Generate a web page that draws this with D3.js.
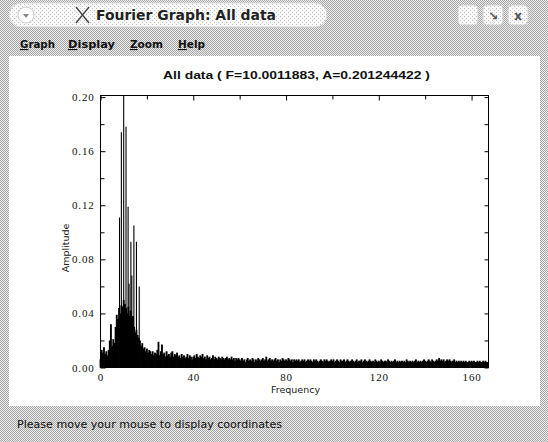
<!DOCTYPE html>
<html><head><meta charset="utf-8">
<script src="https://cdn.jsdelivr.net/npm/d3@7"></script>
<style>html,body{margin:0;padding:0;background:#fff;}svg{display:block;}</style>
</head><body>
<svg id="c" width="548" height="442"></svg>
<script>
// ---------- data ----------
const freqStep = 0.5;            // Hz between spectrum lines
// amplitude 0 – 23.5 Hz
const ampLow = [0.006,0.013,0.011,0.015,0.010,0.012,0.009,0.013,0.020,0.032,
  0.016,0.021,0.018,0.030,0.039,0.036,0.044,0.040,0.046,0.045,
  0.050,0.047,0.044,0.040,0.045,0.038,0.042,0.036,0.038,0.030,
  0.026,0.028,0.024,0.022,0.020,0.016,0.018,0.014,0.015,0.012,
  0.014,0.011,0.013,0.012,0.010,0.012,0.009,0.011];
// amplitude 24 – 59.5 Hz
const ampMid = [0.010,0.013,0.019,0.009,0.012,0.017,0.010,0.011,0.008,0.012,
  0.009,0.010,0.008,0.011,0.012,0.008,0.010,0.009,0.011,0.008,
  0.009,0.007,0.010,0.008,0.009,0.007,0.008,0.010,0.007,0.009,
  0.008,0.006,0.008,0.009,0.007,0.010,0.008,0.007,0.009,0.008,
  0.010,0.007,0.008,0.006,0.009,0.007,0.008,0.006,0.007,0.009,
  0.006,0.008,0.007,0.006,0.008,0.007,0.006,0.008,0.007,0.006,
  0.007,0.008,0.006,0.007,0.006,0.008,0.006,0.007,0.005,0.007,
  0.006,0.007];
// amplitude 60 – 167 Hz
const ampHigh = [0.006,0.005,0.007,0.005,0.006,0.004,0.006,0.007,0.005,0.006,
  0.005,0.007,0.006,0.004,0.006,0.005,0.007,0.006,0.005,0.006,
  0.007,0.005,0.006,0.008,0.005,0.006,0.007,0.005,0.006,0.005,
  0.006,0.007,0.005,0.006,0.004,0.006,0.005,0.007,0.006,0.005,
  0.006,0.005,0.007,0.006,0.005,0.006,0.004,0.006,0.005,0.006,
  0.005,0.006,0.004,0.005,0.006,0.005,0.006,0.004,0.005,0.006,
  0.005,0.006,0.005,0.004,0.006,0.005,0.006,0.005,0.004,0.005,
  0.006,0.005,0.004,0.006,0.005,0.006,0.005,0.004,0.005,0.006,
  0.005,0.006,0.004,0.005,0.006,0.005,0.004,0.006,0.005,0.005,
  0.006,0.004,0.005,0.006,0.005,0.004,0.005,0.006,0.005,0.004,
  0.005,0.006,0.004,0.005,0.005,0.006,0.004,0.005,0.006,0.005,
  0.004,0.005,0.006,0.005,0.004,0.005,0.004,0.006,0.005,0.004,
  0.005,0.004,0.006,0.005,0.004,0.005,0.005,0.004,0.006,0.005,
  0.004,0.005,0.004,0.005,0.006,0.004,0.005,0.004,0.005,0.004,
  0.005,0.004,0.005,0.004,0.006,0.005,0.004,0.005,0.004,0.005,
  0.004,0.005,0.006,0.004,0.005,0.004,0.005,0.004,0.005,0.006,
  0.005,0.004,0.005,0.006,0.005,0.004,0.006,0.005,0.004,0.005,
  0.006,0.005,0.007,0.005,0.006,0.005,0.006,0.004,0.005,0.006,
  0.005,0.006,0.005,0.004,0.005,0.006,0.004,0.005,0.004,0.005,
  0.004,0.005,0.004,0.005,0.004,0.005,0.004,0.004,0.005,0.004,
  0.005,0.004,0.005,0.004,0.004,0.005,0.004,0.005,0.004,0.004,
  0.005,0.004,0.005,0.004,0.004];
// tall spectral lines
const peakFreq = [8.2, 9.0, 10.0, 11.0, 11.9, 12.3, 13.1, 13.5, 14.4, 15.5, 16.7];
const peakAmp  = [0.111, 0.174, 0.2012, 0.178, 0.119, 0.062, 0.093, 0.068, 0.105, 0.093, 0.060];
const xTicks = [0, 40, 80, 120, 160];
const xMinor = [20, 60, 100, 140];
const yTicks = [0.00, 0.04, 0.08, 0.12, 0.16, 0.20];
const yMinor = [0.02, 0.06, 0.10, 0.14, 0.18];
const titleText = "All data ( F=10.0011883, A=0.201244422 )";
const menuItems = ["Graph", "Display", "Zoom", "Help"];

// ---------- drawing ----------
const svg = d3.select("#c");
const defs = svg.append("defs");
const pat = defs.append("pattern").attr("id","stip").attr("width",2).attr("height",2).attr("patternUnits","userSpaceOnUse");
pat.append("rect").attr("width",2).attr("height",2).attr("fill","#eeeeee");
pat.append("rect").attr("width",1).attr("height",1).attr("fill","#a4a4a4");
pat.append("rect").attr("x",1).attr("y",1).attr("width",1).attr("height",1).attr("fill","#a4a4a4");
const pat2 = defs.append("pattern").attr("id","stipL").attr("width",4).attr("height",4).attr("patternUnits","userSpaceOnUse");
pat2.append("rect").attr("width",4).attr("height",4).attr("fill","#f8f8f8");
pat2.append("rect").attr("width",1).attr("height",1).attr("fill","#c4c4c4");
pat2.append("rect").attr("x",2).attr("y",2).attr("width",1).attr("height",1).attr("fill","#c4c4c4");

// window background
svg.append("rect").attr("width",548).attr("height",442).attr("fill","url(#stip)");
// title pill
svg.append("rect").attr("x",9).attr("y",3).attr("width",318).attr("height",24).attr("rx",12).attr("fill","url(#stipL)").attr("stroke","#d8d8d8");
svg.append("circle").attr("cx",26).attr("cy",15).attr("r",8).attr("fill","#fff").attr("stroke","#cfcfcf");
svg.append("path").attr("d","M23,14 L29,14 L26,18 Z").attr("fill","#888");
// X logo
svg.append("path").attr("d","M76,7 L89,23 M89,7 L76,23").attr("stroke","#444").attr("stroke-width",1.3);
svg.append("text").attr("x",96).attr("y",20).attr("font-family","DejaVu Sans").attr("font-weight","bold")
  .attr("font-size",14).attr("fill","#222").attr("textLength",180).attr("lengthAdjust","spacingAndGlyphs")
  .style("paint-order","stroke").attr("stroke","#fff").attr("stroke-width",1.5)
  .text("Fourier Graph: All data");
// right-hand buttons
[[458,""],[483,"\u2198"],[508,"x"]].forEach(([bx,g])=>{
  svg.append("rect").attr("x",bx).attr("y",5).attr("width",20).attr("height",20).attr("rx",4)
    .attr("fill","url(#stipL)").attr("stroke","#d0d0d0");
  svg.append("text").attr("x",bx+10).attr("y",20).attr("text-anchor","middle").attr("font-family","DejaVu Sans")
    .attr("font-size",12).attr("font-weight","bold").attr("fill","#555").text(g);
});
// menu bar
const menuX = [20, 68, 130, 178];
const menuW = [35, 47, 33, 27];
menuItems.forEach((m,i)=>{
  const t = svg.append("text").attr("x",menuX[i]).attr("y",48).attr("font-family","DejaVu Sans")
    .attr("font-weight","bold").attr("font-size",11).attr("fill","#111")
    .attr("textLength",menuW[i]).attr("lengthAdjust","spacingAndGlyphs");
  t.append("tspan").attr("text-decoration","underline").text(m[0]);
  t.append("tspan").text(m.slice(1));
});
// white plot panel
svg.append("rect").attr("x",9).attr("y",56).attr("width",531).attr("height",350).attr("fill","#fff");
// status bar
svg.append("text").attr("x",17).attr("y",428).attr("font-family","DejaVu Sans").attr("font-size",11)
  .attr("fill","#111").attr("textLength",265).attr("lengthAdjust","spacingAndGlyphs")
  .text("Please move your mouse to display coordinates");

// scales
const x = d3.scaleLinear().domain([0, 167.3]).range([100.5, 488.5]);
const y = d3.scaleLinear().domain([0, 0.2012]).range([367.5, 95.5]);

const spectrum = ampLow.concat(ampMid, ampHigh).map((a,i)=>({f:i*freqStep, a}));
const barW = x(freqStep) - x(0) + 0.7;

const plot = svg.append("g");
plot.selectAll("rect.bar").data(spectrum).join("rect").attr("class","bar")
  .attr("x",d=>x(d.f)-barW/2).attr("width",barW)
  .attr("y",d=>y(d.a)).attr("height",d=>y(0)-y(d.a)).attr("fill","#000");
plot.selectAll("line.peak").data(peakFreq).join("line").attr("class","peak")
  .attr("x1",d=>x(d)).attr("x2",d=>x(d))
  .attr("y1",y(0)).attr("y2",(d,i)=>y(peakAmp[i]))
  .attr("stroke","#000").attr("stroke-width",1.1);

// axes
const fontTick = g => g.selectAll("text").attr("font-family","Liberation Serif").attr("font-size",11)
  .attr("letter-spacing","0.8px").attr("fill","#111");
const cleanup = g => { g.select(".domain").remove(); g.selectAll("line").attr("stroke","#000"); };

svg.append("g").attr("transform","translate(100.5,0)")
  .call(d3.axisLeft(y).tickValues(yTicks).tickFormat(d3.format(".2f")).tickSize(-5).tickPadding(6))
  .call(cleanup).call(fontTick);
svg.append("g").attr("transform","translate(100.5,0)")
  .call(d3.axisLeft(y).tickValues(yMinor).tickFormat("").tickSize(-4)).call(cleanup);
svg.append("g").attr("transform","translate(488.5,0)")
  .call(d3.axisRight(y).tickValues(yTicks.concat(yMinor)).tickFormat("").tickSize(-4)).call(cleanup);
svg.append("g").attr("transform","translate(0,367.5)")
  .call(d3.axisBottom(x).tickValues(xTicks).tickFormat(d3.format("d")).tickSize(-5).tickPadding(6))
  .call(cleanup).call(fontTick);
svg.append("g").attr("transform","translate(0,95.5)")
  .call(d3.axisTop(x).tickValues(xTicks).tickFormat("").tickSize(-5)).call(cleanup);
svg.append("g").attr("transform","translate(0,95.5)")
  .call(d3.axisTop(x).tickValues(xMinor).tickFormat("").tickSize(-4)).call(cleanup);
// frame
svg.append("rect").attr("x",x.range()[0]).attr("y",y.range()[1])
  .attr("width",x.range()[1]-x.range()[0]).attr("height",y.range()[0]-y.range()[1])
  .attr("fill","none").attr("stroke","#000").attr("stroke-width",1);

// titles
svg.append("text").attr("x",(x.range()[0]+x.range()[1])/2+2).attr("y",79).attr("text-anchor","middle")
  .attr("font-family","Liberation Sans").attr("font-weight","bold").attr("font-size",11.5).attr("fill","#111")
  .attr("textLength",267).attr("lengthAdjust","spacingAndGlyphs").text(titleText);
svg.append("text").attr("x",(x.range()[0]+x.range()[1])/2+1).attr("y",393).attr("text-anchor","middle")
  .attr("font-family","DejaVu Sans").attr("font-size",9.5).attr("fill","#222").text("Frequency");
svg.append("text").attr("transform","translate(69,248) rotate(-90)").attr("text-anchor","middle")
  .attr("font-family","DejaVu Sans").attr("font-size",9.5).attr("fill","#222").text("Amplitude");
</script>
</body></html>
